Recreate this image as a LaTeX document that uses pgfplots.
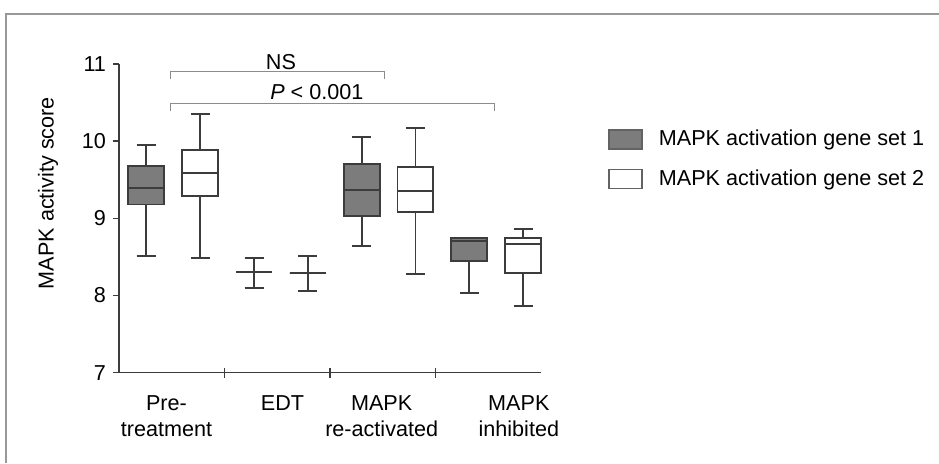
\documentclass[border=0pt]{standalone}
\usepackage{fontspec}
\setmainfont{Liberation Sans}
\usepackage{pgfplots}
\pgfplotsset{compat=1.18}
\usepgfplotslibrary{statistics}
\definecolor{boxgray}{HTML}{7C7C7C}
\definecolor{linegray}{HTML}{3C3C3C}
\definecolor{framegray}{HTML}{999999}
\definecolor{brgray}{HTML}{8C8C8C}
\pgfplotsset{
  set1/.style={fill=boxgray, draw=linegray, line width=0.95pt, solid},
  set2/.style={fill=white, draw=linegray, line width=0.95pt, solid},
}
\begin{document}
\begin{tikzpicture}[font=\fontsize{10.8pt}{13pt}\selectfont]
\path[use as bounding box] (0,0) rectangle (469.5pt,231.5pt);
\draw[framegray, line width=1.2pt] (3pt,0) -- (3pt,224.5pt) -- (469.5pt,224.5pt);
\begin{axis}[
  at={(59.5pt,45.15pt)}, anchor=south west,
  scale only axis, width=211pt, height=154.35pt,
  xmin=0, xmax=4, ymin=7, ymax=11,
  axis lines=left,
  axis line style={-, draw=linegray, line width=0.75pt},
  clip=false,
  ytick={7,8,9,10,11},
  xtick={0.45,1.55,2.49,3.79},
  xticklabels={Pre-\\treatment, EDT, MAPK\\re-activated, MAPK\\inhibited},
  xticklabel style={align=center, yshift=-5pt},
  major x tick style={draw=none},
  minor xtick={1,2,3},
  minor tick length=5pt,
  minor x tick style={yshift=2.5pt},
  major tick length=3pt,
  tick align=outside,
  tick style={linegray, line width=0.75pt},
  /pgf/number format/assume math mode=true,
  ylabel={MAPK activity score},
  ylabel style={at={(axis description cs:-0.168,0.582)}, anchor=center},
  boxplot/draw direction=y,
  legend style={at={(axis description cs:1.159,0.79)}, anchor=north west,
    draw=none, fill=none, inner sep=0pt, row sep=9.5pt, column sep=8pt,
    nodes={inner sep=0pt, anchor=west}},
  legend cell align=left,
  legend image code/.code={\draw[#1] (0pt,-4.75pt) rectangle (16.5pt,4.75pt);},
]
\addlegendimage{fill=boxgray, draw=linegray!80, line width=0.7pt}
\addlegendentry{MAPK activation gene set 1}
\addlegendimage{fill=white, draw=linegray!80, line width=0.7pt}
\addlegendentry{MAPK activation gene set 2}

% Pre-treatment
\addplot[set1, boxplot prepared={draw position=0.256, lower whisker=8.51, lower quartile=9.18, median=9.39, upper quartile=9.68, upper whisker=9.95, box extend=0.34, whisker extend=0.18}] coordinates {};
\addplot[set2, boxplot prepared={draw position=0.768, lower whisker=8.49, lower quartile=9.29, median=9.59, upper quartile=9.88, upper whisker=10.35, box extend=0.34, whisker extend=0.18}] coordinates {};
% EDT
\addplot[set1, boxplot prepared={draw position=1.28, lower whisker=8.10, lower quartile=8.31, median=8.31, upper quartile=8.31, upper whisker=8.49, box extend=0.34, whisker extend=0.18}] coordinates {};
\addplot[set2, boxplot prepared={draw position=1.79, lower whisker=8.06, lower quartile=8.29, median=8.29, upper quartile=8.29, upper whisker=8.51, box extend=0.34, whisker extend=0.18}] coordinates {};
% MAPK re-activated
\addplot[set1, boxplot prepared={draw position=2.30, lower whisker=8.64, lower quartile=9.03, median=9.37, upper quartile=9.70, upper whisker=10.05, box extend=0.34, whisker extend=0.18}] coordinates {};
\addplot[set2, boxplot prepared={draw position=2.81, lower whisker=8.28, lower quartile=9.08, median=9.36, upper quartile=9.66, upper whisker=10.17, box extend=0.34, whisker extend=0.18}] coordinates {};
% MAPK inhibited
\addplot[set1, boxplot prepared={draw position=3.32, lower whisker=8.03, lower quartile=8.45, median=8.71, upper quartile=8.75, upper whisker=8.75, box extend=0.34, whisker extend=0.18}] coordinates {};
\addplot[set2, boxplot prepared={draw position=3.83, lower whisker=7.87, lower quartile=8.29, median=8.67, upper quartile=8.75, upper whisker=8.86, box extend=0.34, whisker extend=0.18}] coordinates {};

\draw[brgray, line width=0.6pt] (axis cs:0.49,10.81) |- (axis cs:2.52,10.90) -- (axis cs:2.52,10.81);
\node at (axis cs:1.535,11.03) {NS};
\draw[brgray, line width=0.6pt] (axis cs:0.49,10.39) |- (axis cs:3.56,10.49) -- (axis cs:3.56,10.39);
\node at (axis cs:1.875,10.64) {\textit{P} < 0.001};
\end{axis}
\end{tikzpicture}
\end{document}
